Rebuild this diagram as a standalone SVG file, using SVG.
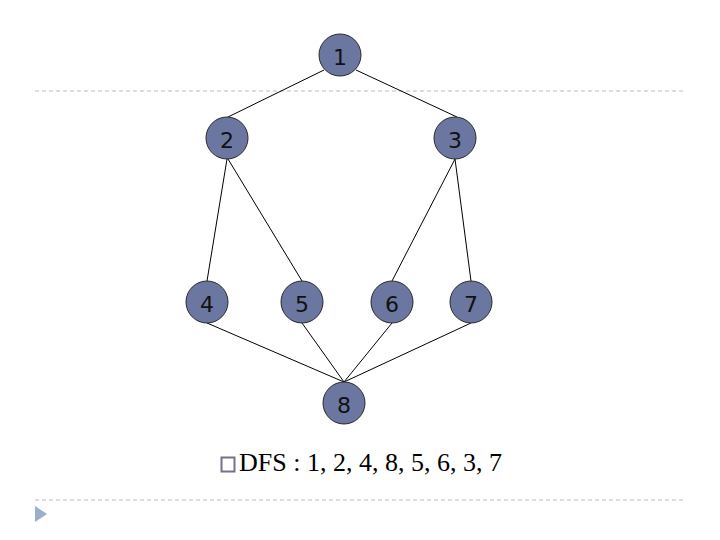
<svg xmlns="http://www.w3.org/2000/svg" width="720" height="540" viewBox="0 0 720 540">
<style>
.node circle{fill:#6B77A0;stroke:#2a2a2a;stroke-width:1}
.node text{font-family:"DejaVu Sans",Verdana,sans-serif;font-size:22px;fill:#111;text-anchor:middle}
.edge{stroke:#000;stroke-width:1;fill:none}
.rule{stroke:#B8BCC4;stroke-width:1;stroke-dasharray:4 3}
</style>
<rect width="720" height="540" fill="#fff"/>
<line class="rule" x1="35" y1="91" x2="686" y2="91"/>
<line class="rule" x1="35" y1="500" x2="686" y2="500"/>
<polygon points="35,506 47,514 35,522" fill="#9AAFC8"/>
<g id="connectors">
<line class="edge" x1="324" y1="70" x2="228" y2="117"/>
<line class="edge" x1="356" y1="70" x2="457" y2="117"/>
<line class="edge" x1="227" y1="159" x2="207" y2="281"/>
<line class="edge" x1="228" y1="159" x2="302" y2="281"/>
<line class="edge" x1="455" y1="159" x2="392" y2="281"/>
<line class="edge" x1="455" y1="159" x2="471" y2="281"/>
<line class="edge" x1="207" y1="323" x2="344" y2="382"/>
<line class="edge" x1="302" y1="323" x2="344" y2="382"/>
<line class="edge" x1="392" y1="323" x2="344" y2="382"/>
<line class="edge" x1="471" y1="323" x2="344" y2="382"/>
</g>
<g id="n1" class="node"><circle cx="340" cy="55" r="21"/><text x="340" y="65">1</text></g>
<g id="n2" class="node"><circle cx="227" cy="138" r="21"/><text x="227" y="148">2</text></g>
<g id="n3" class="node"><circle cx="455" cy="138" r="21"/><text x="455" y="148">3</text></g>
<g id="n4" class="node"><circle cx="207" cy="302" r="21"/><text x="207" y="312">4</text></g>
<g id="n5" class="node"><circle cx="302" cy="302" r="21"/><text x="302" y="312">5</text></g>
<g id="n6" class="node"><circle cx="392" cy="302" r="21"/><text x="392" y="312">6</text></g>
<g id="n7" class="node"><circle cx="471" cy="302" r="21"/><text x="471" y="312">7</text></g>
<g id="n8" class="node"><circle cx="344" cy="403" r="21"/><text x="344" y="413">8</text></g>
<g id="caption">
<rect x="221.5" y="457.5" width="13" height="14" fill="none" stroke="#6F7585" stroke-width="2"/>
<text x="239" y="471" font-family="'Liberation Serif','Times New Roman',serif" font-size="26" fill="#000">DFS : 1, 2, 4, 8, 5, 6, 3, 7</text>
</g>
</svg>
